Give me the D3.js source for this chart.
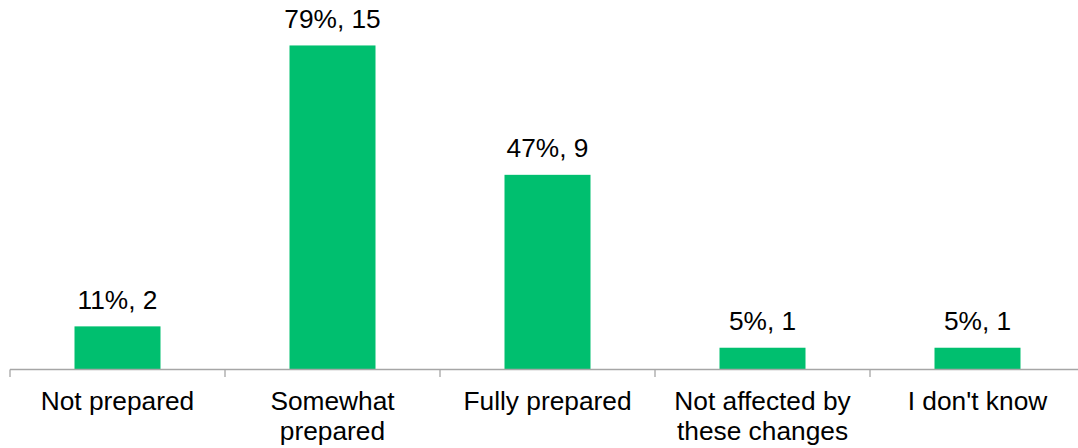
<!DOCTYPE html>
<html>
<head>
<meta charset="utf-8">
<script src="https://cdn.jsdelivr.net/npm/d3@7"></script>
<style>
  html, body { margin: 0; padding: 0; background: #fff; }
  svg { display: block; }
  text { font-family: "Liberation Sans", Arial, sans-serif; fill: #000; }
</style>
</head>
<body>
<svg id="chart" width="1078" height="448"></svg>
<script>
const categories = ["Not prepared", "Somewhat prepared", "Fully prepared", "Not affected by these changes", "I don't know"];
const percents = [10.5, 78.9, 47.4, 5.3, 5.3];
const counts = [2, 15, 9, 1, 1];
const valueLabels = ["11%, 2", "79%, 15", "47%, 9", "5%, 1", "5%, 1"];

const W = 1078, H = 448;
const svg = d3.select("#chart");
const x0 = 10, step = 215;
const x = d3.scaleBand().domain(categories).range([x0, x0 + step * categories.length]).paddingInner(0.6).paddingOuter(0.3);
const baseY = 369.5;
const y = d3.scaleLinear().domain([0, 90]).range([baseY, baseY - 90 * 4.107]);
const fs = "26.3px";

// bars
svg.selectAll("rect.bar").data(categories).join("rect")
  .attr("class", "bar")
  .attr("x", d => x(d))
  .attr("width", x.bandwidth())
  .attr("y", (d, i) => y(percents[i]))
  .attr("height", (d, i) => y(0) - y(percents[i]))
  .attr("fill", "#00BF6F");

// value labels
svg.selectAll("text.val").data(categories).join("text")
  .attr("class", "val")
  .attr("x", d => x(d) + x.bandwidth() / 2)
  .attr("y", (d, i) => y(percents[i]) - 17.5)
  .attr("text-anchor", "middle")
  .attr("font-size", fs)
  .text((d, i) => valueLabels[i]);

// axis line and ticks
const axisG = svg.append("g");
axisG.append("line")
  .attr("x1", x0).attr("x2", W)
  .attr("y1", baseY).attr("y2", baseY)
  .attr("stroke", "#A6A6A6").attr("stroke-width", 1.3);
const tickPos = d3.range(categories.length + 1).map(i => x0 + i * step);
axisG.selectAll("line.tick").data(tickPos).join("line")
  .attr("class", "tick")
  .attr("x1", d => d).attr("x2", d => d)
  .attr("y1", baseY).attr("y2", baseY + 7.5)
  .attr("stroke", "#A6A6A6").attr("stroke-width", 1.3);

// category labels with wrapping
const maxW = 205;
categories.forEach(cat => {
  const cx = x(cat) + x.bandwidth() / 2;
  const t = svg.append("text")
    .attr("x", cx).attr("y", 410)
    .attr("text-anchor", "middle")
    .attr("font-size", fs);
  const words = cat.split(" ");
  let line = [];
  let lineNo = 0;
  let tspan = t.append("tspan").attr("x", cx).attr("y", 410);
  words.forEach(w => {
    line.push(w);
    tspan.text(line.join(" "));
    if (tspan.node().getComputedTextLength() > maxW && line.length > 1) {
      line.pop();
      tspan.text(line.join(" "));
      line = [w];
      lineNo++;
      tspan = t.append("tspan").attr("x", cx).attr("y", 410 + lineNo * 29.5).text(w);
    }
  });
});
</script>
</body>
</html>
